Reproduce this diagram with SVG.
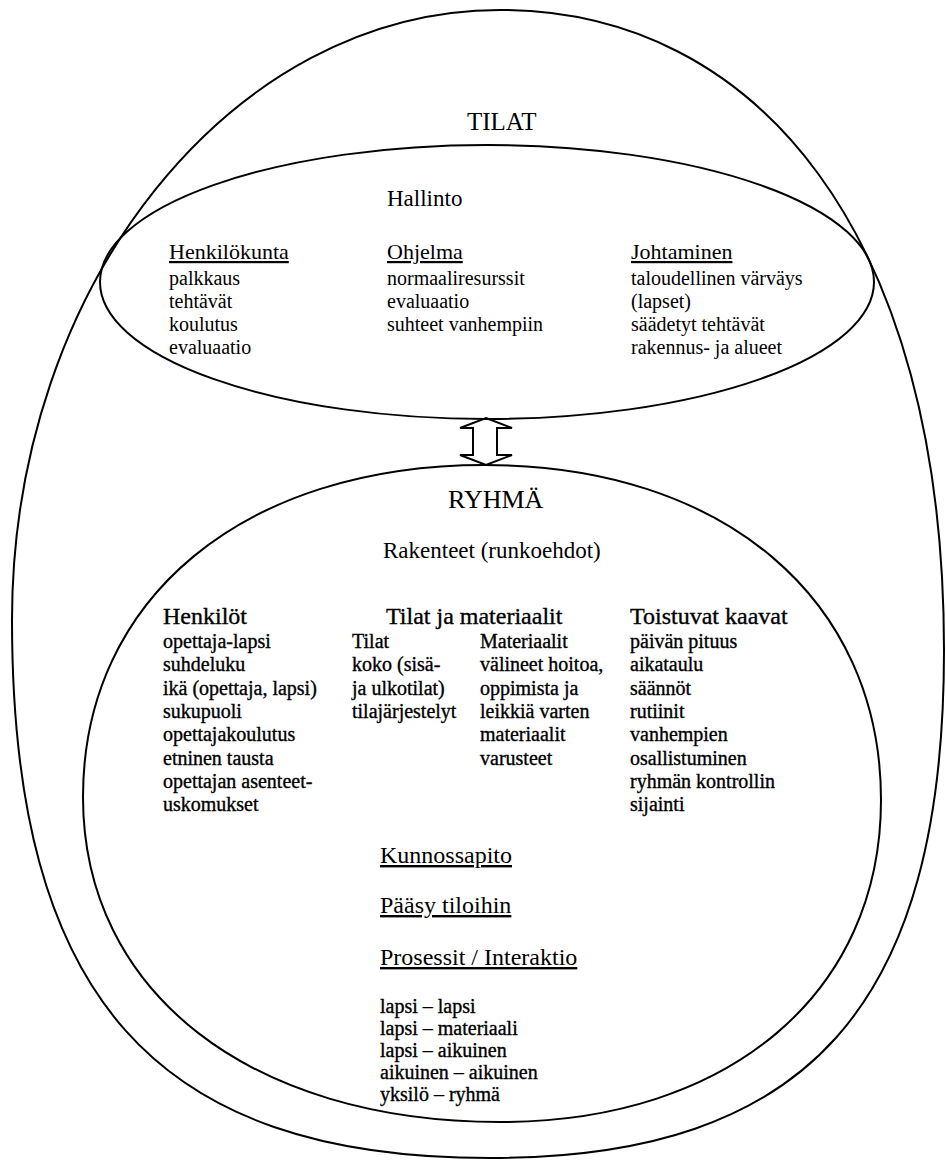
<svg xmlns="http://www.w3.org/2000/svg" width="946" height="1162" viewBox="0 0 946 1162">
<style>
  .shape { fill: none; stroke: #000; stroke-width: 2; }
  text { font-family: "Liberation Serif", "Times New Roman", "DejaVu Serif", serif; fill: #000; }
  .title { font-size: 25px; }
  .big { font-size: 26px; }
  .h1 { font-size: 23px; }
  .h2 { font-size: 22px; }
  .h3 { font-size: 24px; }
  .it { font-size: 20px; }
  .dk { stroke: #000; stroke-width: 0.35; }
  .u { text-decoration: underline; }
</style>
<rect width="946" height="1162" fill="#fff"/>

<g id="tilat">
  <path class="shape" d="M500,10 C757,10 944,234 944,650 C944,1006 808,1158 490,1158 C155,1158 12,997 12,620 C12,285 232,10 500,10 Z"/>
  <text class="title" x="467" y="130">TILAT</text>
</g>

<g id="hallinto">
  <ellipse class="shape" cx="487" cy="282" rx="387" ry="137"/>
  <text class="h1" x="387" y="206">Hallinto</text>
  <text class="h2 u" x="169" y="259">Henkilökunta</text>
  <text class="it" x="169" y="285">palkkaus</text>
  <text class="it" x="169" y="308">tehtävät</text>
  <text class="it" x="169" y="331">koulutus</text>
  <text class="it" x="169" y="354">evaluaatio</text>
  <text class="h2 u" x="387" y="259">Ohjelma</text>
  <text class="it" x="387" y="285">normaaliresurssit</text>
  <text class="it" x="387" y="308">evaluaatio</text>
  <text class="it" x="387" y="331">suhteet vanhempiin</text>
  <text class="h2 u" x="631" y="259">Johtaminen</text>
  <text class="it" x="631" y="285">taloudellinen värväys</text>
  <text class="it" x="631" y="308">(lapset)</text>
  <text class="it" x="631" y="331">säädetyt tehtävät</text>
  <text class="it" x="631" y="354">rakennus- ja alueet</text>
</g>

<g id="connectors">
  <path class="shape" d="M486,418 L512,428 L497,428 L497,455 L512,455 L486,465 L460,455 L473,455 L473,428 L460,428 Z" fill="#fff"/>
</g>

<g id="ryhma">
  <path class="shape" d="M485,465 C723,465 881,599 881,800 C881,993 729,1122 500,1122 C250,1122 83,992 83,797 C83,598 244,465 485,465 Z"/>
  <text class="big" x="448" y="508">RYHMÄ</text>
  <text class="h1" x="383" y="558">Rakenteet (runkoehdot)</text>

  <text class="h3 dk" x="163" y="624">Henkilöt</text>
  <text class="it dk" x="163" y="648">opettaja-lapsi</text>
  <text class="it dk" x="163" y="671">suhdeluku</text>
  <text class="it dk" x="163" y="695">ikä (opettaja, lapsi)</text>
  <text class="it dk" x="163" y="718">sukupuoli</text>
  <text class="it dk" x="163" y="741">opettajakoulutus</text>
  <text class="it dk" x="163" y="765">etninen tausta</text>
  <text class="it dk" x="163" y="788">opettajan asenteet-</text>
  <text class="it dk" x="163" y="811">uskomukset</text>

  <text class="h3 dk" x="386" y="624">Tilat ja materiaalit</text>
  <text class="it dk" x="352" y="648">Tilat</text>
  <text class="it dk" x="352" y="671">koko (sisä-</text>
  <text class="it dk" x="352" y="695">ja ulkotilat)</text>
  <text class="it dk" x="352" y="718">tilajärjestelyt</text>
  <text class="it dk" x="480" y="648">Materiaalit</text>
  <text class="it dk" x="480" y="671">välineet hoitoa,</text>
  <text class="it dk" x="480" y="695">oppimista ja</text>
  <text class="it dk" x="480" y="718">leikkiä varten</text>
  <text class="it dk" x="480" y="741">materiaalit</text>
  <text class="it dk" x="480" y="765">varusteet</text>

  <text class="h3 dk" x="630" y="624">Toistuvat kaavat</text>
  <text class="it dk" x="630" y="648">päivän pituus</text>
  <text class="it dk" x="630" y="671">aikataulu</text>
  <text class="it dk" x="630" y="695">säännöt</text>
  <text class="it dk" x="630" y="718">rutiinit</text>
  <text class="it dk" x="630" y="741">vanhempien</text>
  <text class="it dk" x="630" y="765">osallistuminen</text>
  <text class="it dk" x="630" y="788">ryhmän kontrollin</text>
  <text class="it dk" x="630" y="811">sijainti</text>

  <text class="h3 u" x="380" y="863">Kunnossapito</text>
  <text class="h3 u" x="380" y="913">Pääsy tiloihin</text>
  <text class="h3 u" x="380" y="965">Prosessit / Interaktio</text>
  <text class="it dk" x="380" y="1013">lapsi – lapsi</text>
  <text class="it dk" x="380" y="1035">lapsi – materiaali</text>
  <text class="it dk" x="380" y="1057">lapsi – aikuinen</text>
  <text class="it dk" x="380" y="1079">aikuinen – aikuinen</text>
  <text class="it dk" x="380" y="1101">yksilö – ryhmä</text>
</g>
</svg>
